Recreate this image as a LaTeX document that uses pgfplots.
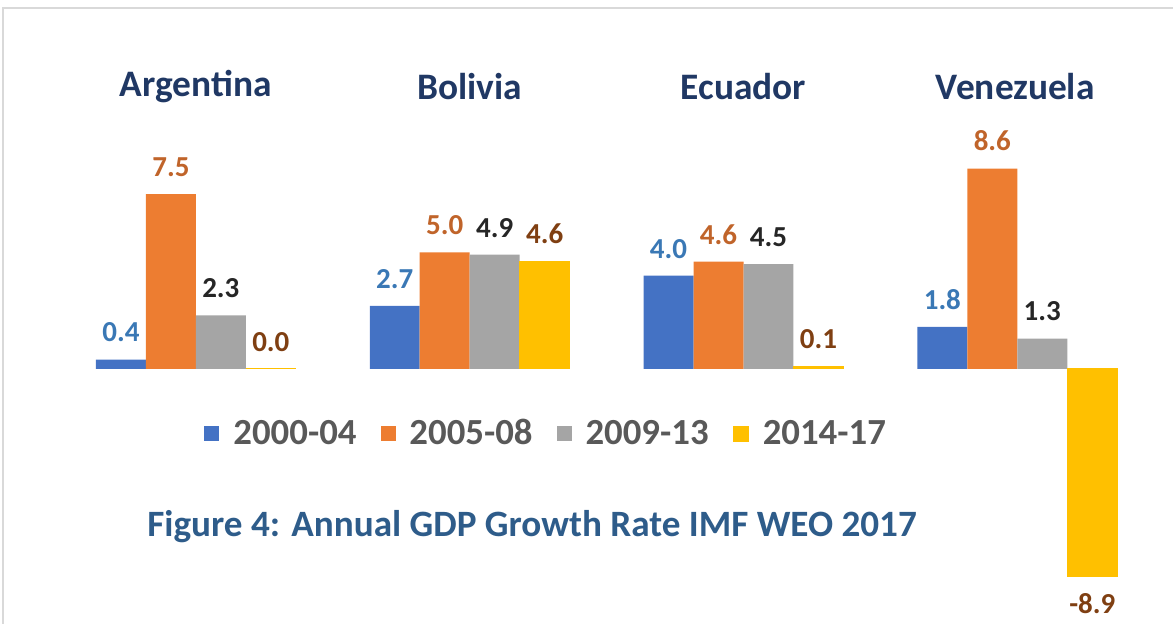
\documentclass[border=0pt]{standalone}
\usepackage{fontspec}
\setmainfont{Carlito}
\usepackage{pgfplots}
\pgfplotsset{compat=1.18}
\definecolor{cblue}{HTML}{4472C4}
\definecolor{corange}{HTML}{ED7D31}
\definecolor{cgray}{HTML}{A5A5A5}
\definecolor{cyellow}{HTML}{FFC000}
\definecolor{lblue}{HTML}{3A78B5}
\definecolor{lorange}{HTML}{C0642A}
\definecolor{lgray}{HTML}{262626}
\definecolor{lyellow}{HTML}{7F3F12}
\definecolor{titlecol}{HTML}{203864}
\definecolor{capcol}{HTML}{2E5C8A}
\definecolor{legtext}{HTML}{595959}
\definecolor{framecol}{HTML}{D9D9D9}
\begin{document}
\begin{tikzpicture}
\begin{axis}[
  at={(0,0)}, anchor=south west,
  width=587pt, height=312pt, scale only axis,
  hide axis, clip=false,
  xmin=-0.7153, xmax=3.5693,
  ymin=-10.94, ymax=15.84,
  ybar=0pt, bar width=25pt,
  nodes near coords,
  nodes near coords style={font=\fontsize{14.5}{16}\selectfont\bfseries, inner ysep=8.5pt, inner xsep=1pt},
  /pgf/number format/.cd, fixed, fixed zerofill, precision=1, assume math mode=true,
  /pgfplots/.cd,
  legend style={at={(rel axis cs:0.4664,0.3045)}, anchor=center, draw=none, fill=none,
    legend columns=4, font=\fontsize{18.4}{20}\selectfont\bfseries\color{legtext},
    /tikz/every even column/.append style={column sep=10pt},
    /tikz/every odd column/.append style={column sep=5pt}},
  legend image code/.code={\fill[#1] (0pt,-3.75pt) rectangle (7.5pt,3.75pt);},
]
\path (rel axis cs:0,0) rectangle (rel axis cs:1,1);
\addplot[fill=cblue, draw=none, every node near coord/.append style={text=lblue}]
  coordinates {(0,0.4) (1,2.7) (2,4.0) (3,1.8)};
\addplot[fill=corange, draw=none, every node near coord/.append style={text=lorange}]
  coordinates {(0,7.5) (1,5.0) (2,4.6) (3,8.6)};
\addplot[fill=cgray, draw=none, every node near coord/.append style={text=lgray}]
  coordinates {(0,2.3) (1,4.9) (2,4.5) (3,1.3)};
\addplot[fill=cyellow, draw=cyellow, line width=0.6pt, every node near coord/.append style={text=lyellow}]
  coordinates {(0,0.0) (1,4.6) (2,0.1) (3,-8.9)};
\legend{2000-04,2005-08,2009-13,2014-17}
\draw[framecol, line width=0.8pt] (rel axis cs:0.00256,0) -- (rel axis cs:0.00256,0.9872) -- (rel axis cs:1,0.9872);
\begin{scope}[every node/.style={font=\fontsize{18.7}{20}\selectfont\bfseries, text=titlecol}]
\node at (rel axis cs:{196/1174},{1-87/624}) {Argentina};
\node at (rel axis cs:{470/1174},{1-87/624}) {Bolivia};
\node at (rel axis cs:{744/1174},{1-87/624}) {Ecuador};
\node at (rel axis cs:{1016/1174},{1-87/624}) {Venezuela};
\end{scope}
\node[font=\fontsize{18.6}{20}\selectfont\bfseries, text=capcol] at (rel axis cs:{532.5/1174},{1-527/624}) {Figure 4: Annual GDP Growth Rate IMF WEO 2017};
\end{axis}
\end{tikzpicture}
\end{document}
